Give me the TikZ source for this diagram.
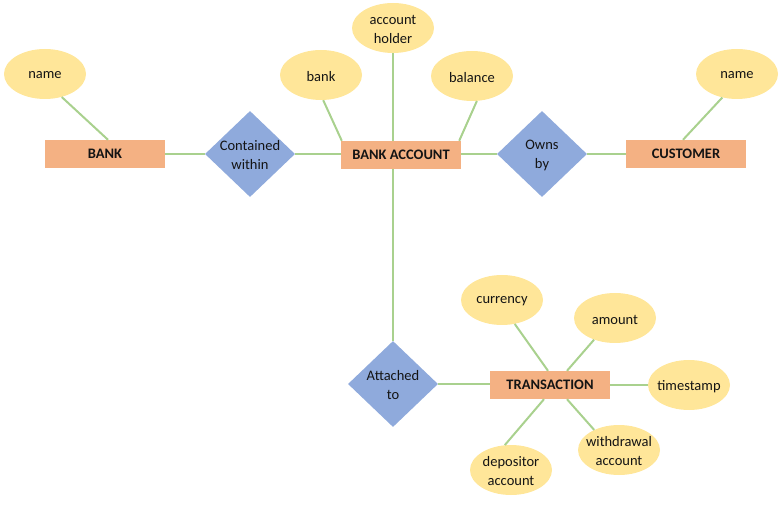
\documentclass[tikz,border=0pt]{standalone}
\usepackage{fontspec}
\setmainfont{Carlito}
\usetikzlibrary{shapes.geometric}
\definecolor{entc}{HTML}{F4B183}
\definecolor{relc}{HTML}{8FAADC}
\definecolor{attrc}{HTML}{FFE699}
\definecolor{linec}{HTML}{A9D18E}
\definecolor{txtc}{HTML}{141414}
\begin{document}
\begin{tikzpicture}[x=1pt,y=-1pt,
  font=\fontsize{14.5}{19}\selectfont, text=txtc,
  ent/.style={rectangle, fill=entc, minimum width=120pt, minimum height=28pt, inner sep=0pt, font=\fontsize{14.5}{19}\selectfont\bfseries},
  rel/.style={diamond, fill=relc, minimum width=90pt, minimum height=86pt, inner sep=0pt,
    label={[align=center, text=txtc, yshift=-1.5pt]center:#1}},
  attr/.style={ellipse, fill=attrc, minimum width=82pt, minimum height=50pt, inner sep=0pt,
    label={[align=center, text=txtc, yshift=-1.5pt]center:#1}},
  conn/.style={draw=linec, line width=2pt}]
\useasboundingbox (0,0) rectangle (780,505);

% entities
\node[ent] (bank) at (105,154) {BANK};
\node[ent] (ba) at (401,155) {BANK ACCOUNT};
\node[ent] (cust) at (686,154) {CUSTOMER};
\node[ent] (tr) at (550,385) {TRANSACTION};

% relationships
\node[rel={Contained\\within}] (cw) at (250,154) {};
\node[rel={Owns\\by}] (ob) at (542,154) {};
\node[rel={Attached\\to}] (at) at (393,384) {};

% attributes
\node[attr={name}] (bname) at (45,74) {};
\node[attr={bank}] (bk) at (321,75) {};
\node[attr={account\\holder}] (ah) at (393,28) {};
\node[attr={balance}] (bal) at (472,76) {};
\node[attr={name}] (cname) at (737,74) {};
\node[attr={currency}] (cur) at (502,300) {};
\node[attr={amount}] (am) at (615,318) {};
\node[attr={timestamp}] (ts) at (689,385) {};
\node[attr={withdrawal\\account}] (wa) at (619,450) {};
\node[attr={depositor\\account}] (dep) at (511,470) {};

% connectors
\draw[conn] (bank.east) -- (cw.west);
\draw[conn] (cw.east) -- (cw.east -| ba.west);
\draw[conn] (ba.east |- ob.west) -- (ob.west);
\draw[conn] (ob.east) -- (ob.east -| cust.west);
\draw[conn] (bname.-54) -- ([xshift=3pt]bank.north);
\draw[conn] (cname.-122) -- ([xshift=-3pt]cust.north);
\draw[conn] (bk.-85) -- ([xshift=1pt]ba.north west);
\draw[conn] (ah.south) -- (ah.south |- ba.north);
\draw[conn] (bal.-79) -- ([xshift=-2pt]ba.north east);
\draw[conn] (at.north |- ba.south) -- (at.north);
\draw[conn] (at.east) -- (at.east -| tr.west);
\draw[conn] (tr.east |- ts.west) -- (ts.west);
\draw[conn] (cur.-62) -- ([xshift=-2pt]tr.north);
\draw[conn] (am.-134) -- ([xshift=17pt]tr.north);
\draw[conn] (dep.104) -- ([xshift=-6pt]tr.south);
\draw[conn] (wa.141) -- ([xshift=17pt]tr.south);
\end{tikzpicture}
\end{document}
